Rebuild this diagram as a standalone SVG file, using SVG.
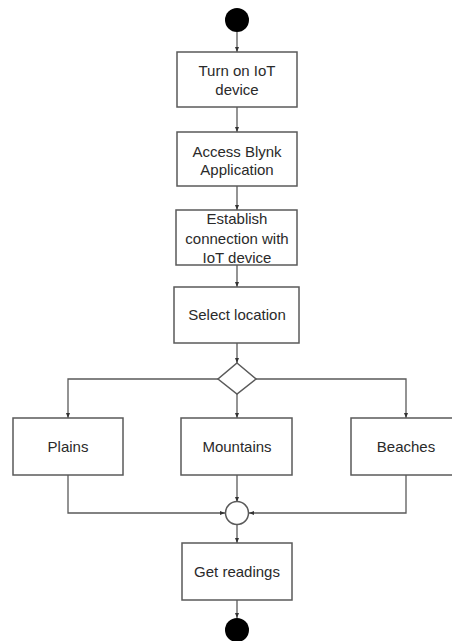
<svg xmlns="http://www.w3.org/2000/svg" width="452" height="641" viewBox="0 0 452 641">
<style>
.box{fill:#fff;stroke:#5a5a5a;stroke-width:1.5}
.lbl{font-family:"Liberation Sans",Arial,sans-serif;font-size:15px;fill:#2a2a2a;text-anchor:middle}
.edge{fill:none;stroke:#5a5a5a;stroke-width:1.3}
</style>
<defs>
<marker id="ah" markerUnits="userSpaceOnUse" markerWidth="5" markerHeight="5" viewBox="0 0 5 5" refX="5" refY="2.5" orient="auto">
<path d="M0,0.5 L5,2.5 L0,4.5 Z" fill="#333"/>
</marker>
</defs>
<rect width="452" height="641" fill="#fff"/>
<g id="connectors">
<path class="edge" d="M237,32 V52" marker-end="url(#ah)"/>
<path class="edge" d="M237,107 V132" marker-end="url(#ah)"/>
<path class="edge" d="M237,186 V210" marker-end="url(#ah)"/>
<path class="edge" d="M237,265 V287" marker-end="url(#ah)"/>
<path class="edge" d="M237,343 V363" marker-end="url(#ah)"/>
<path class="edge" d="M218,379 H68 V418" marker-end="url(#ah)"/>
<path class="edge" d="M237,394 V418" marker-end="url(#ah)"/>
<path class="edge" d="M256,379 H406 V418" marker-end="url(#ah)"/>
<path class="edge" d="M68,475 V513 H225" marker-end="url(#ah)"/>
<path class="edge" d="M237,475 V502" marker-end="url(#ah)"/>
<path class="edge" d="M406,475 V513 H249" marker-end="url(#ah)"/>
<path class="edge" d="M237,524 V543" marker-end="url(#ah)"/>
<path class="edge" d="M237,600 V618" marker-end="url(#ah)"/>
</g>
<g id="start"><circle cx="237" cy="20" r="12" fill="#000"/></g>
<g id="turn-on">
<rect class="box" x="177" y="52" width="120" height="55"/>
<text class="lbl" x="237" y="76">Turn on IoT</text>
<text class="lbl" x="237" y="95">device</text>
</g>
<g id="access">
<rect class="box" x="177" y="132" width="120" height="54"/>
<text class="lbl" x="237" y="157">Access Blynk</text>
<text class="lbl" x="237" y="175">Application</text>
</g>
<g id="establish">
<rect class="box" x="176" y="210" width="121" height="55"/>
<text class="lbl" x="237" y="224">Establish</text>
<text class="lbl" x="237" y="244">connection with</text>
<text class="lbl" x="237" y="263">IoT device</text>
</g>
<g id="select">
<rect class="box" x="174" y="287" width="125" height="56"/>
<text class="lbl" x="237" y="320">Select location</text>
</g>
<g id="decision"><path class="box" d="M237,363 L256,379 L237,394 L218,379 Z"/></g>
<g id="plains">
<rect class="box" x="13" y="418" width="110" height="57"/>
<text class="lbl" x="68" y="452">Plains</text>
</g>
<g id="mountains">
<rect class="box" x="181" y="418" width="111" height="57"/>
<text class="lbl" x="237" y="452">Mountains</text>
</g>
<g id="beaches">
<rect class="box" x="351" y="418" width="110" height="57"/>
<text class="lbl" x="406" y="452">Beaches</text>
</g>
<g id="merge"><circle class="box" cx="237" cy="513" r="11.5"/></g>
<g id="get-readings">
<rect class="box" x="182" y="543" width="110" height="57"/>
<text class="lbl" x="237" y="577">Get readings</text>
</g>
<g id="end"><circle cx="237" cy="630" r="12" fill="#000"/></g>
</svg>
